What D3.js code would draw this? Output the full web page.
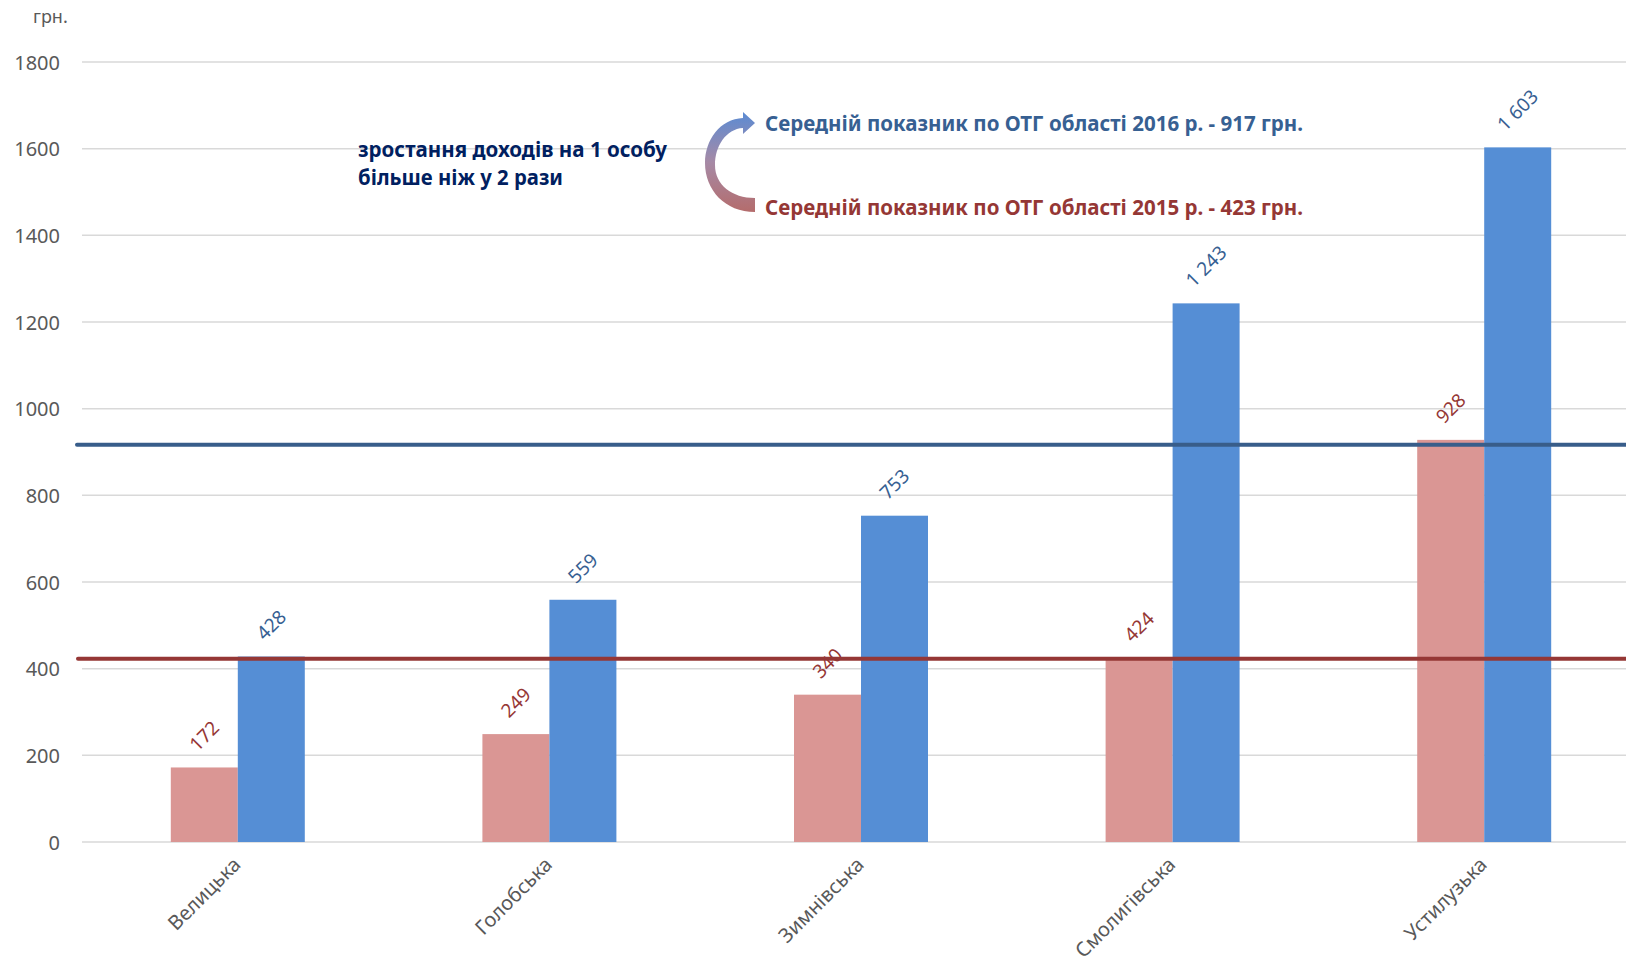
<!DOCTYPE html>
<html>
<head>
<meta charset="utf-8">
<script src="https://cdn.jsdelivr.net/npm/d3@7"></script>
<style>
  html, body { margin: 0; padding: 0; background: #fff; }
  svg { display: block; font-family: "Noto Sans", "Open Sans", sans-serif; }
</style>
</head>
<body>
<svg id="chart" width="1626" height="964"></svg>
<script>
// ---- data ----
const categories = ["Велицька", "Голобська", "Зимнівська", "Смолигівська", "Устилузька"];
const series = ["2015", "2016"];
const values2015 = [172, 249, 340, 424, 928];
const values2016 = [428, 559, 753, 1243, 1603];
const avg2015 = 423;
const avg2016 = 917;
const yTicks = [0, 200, 400, 600, 800, 1000, 1200, 1400, 1600, 1800];
const unitLabel = "грн.";
const noteLines = ["зростання доходів на 1 особу", "більше ніж у 2 рази"];
const legend2016 = "Середній показник по ОТГ області 2016 р. - 917 грн.";
const legend2015 = "Середній показник по ОТГ області 2015 р. - 423 грн.";

const colors = { "2015": "#DA9694", "2016": "#558ED5" };
const labelColors = { "2015": "#953735", "2016": "#376092" };

const svg = d3.select("#chart");

const x0 = d3.scaleBand().domain(categories).range([82, 1640]).paddingInner(0).paddingOuter(0);
const groupW = x0.bandwidth() * 0.43;
const x1 = d3.scaleBand().domain(series).range([-groupW / 2, groupW / 2]);
const y = d3.scaleLinear().domain([0, 1800]).range([842, 62]);

const fmt = v => {
  const s = String(v);
  return s.length > 3 ? s.slice(0, s.length - 3) + "\u00A0" + s.slice(-3) : s;
};

// gridlines
svg.append("g").selectAll("line").data(yTicks).join("line")
  .attr("x1", 82).attr("x2", 1626)
  .attr("y1", d => y(d)).attr("y2", d => y(d))
  .attr("stroke", "#D9D9D9").attr("stroke-width", 1.5);

// y axis labels
const yAxis = d3.axisLeft(y).tickValues(yTicks).tickSize(0).tickPadding(0).tickFormat(d3.format("d"));
const gy = svg.append("g").attr("transform", "translate(60,0)").call(yAxis);
gy.select(".domain").remove();
gy.selectAll("text").attr("font-size", 20).attr("fill", "#595959")
  .attr("font-family", "'Noto Sans', sans-serif").attr("dy", "0.35em");

// unit label
svg.append("text").attr("x", 33).attr("y", 23).attr("font-size", 18).attr("fill", "#595959").text(unitLabel);

// bars
const rows = categories.map((c, i) => ({ cat: c, vals: [
  { s: "2015", v: values2015[i] }, { s: "2016", v: values2016[i] } ] }));

const groups = svg.append("g").selectAll("g").data(rows).join("g")
  .attr("transform", d => `translate(${x0(d.cat) + x0.bandwidth() / 2},0)`);

groups.selectAll("rect").data(d => d.vals).join("rect")
  .attr("x", d => x1(d.s)).attr("width", x1.bandwidth())
  .attr("y", d => y(d.v)).attr("height", d => y(0) - y(d.v))
  .attr("fill", d => colors[d.s]);

// data labels
groups.selectAll("text.val").data(d => d.vals).join("text")
  .attr("class", "val")
  .attr("font-size", 19)
  .attr("fill", d => labelColors[d.s])
  .attr("text-anchor", "middle")
  .attr("dy", "0.35em")
  .text(d => fmt(d.v))
  .each(function (d) {
    const L = this.getComputedTextLength();
    const h = 14;
    const off = 15 + (L + h) / (2 * Math.SQRT2);
    const cx = x1(d.s) + x1.bandwidth() / 2;
    d3.select(this).attr("transform", `translate(${cx},${y(d.v) - off}) rotate(-45)`);
  });

// category labels
groups.append("text")
  .attr("font-size", 20).attr("fill", "#595959")
  .attr("text-anchor", "end")
  .attr("transform", "translate(4,866) rotate(-45)")
  .text(d => d.cat);

// average lines
svg.append("line").attr("x1", 77).attr("x2", 1626)
  .attr("y1", y(avg2016)).attr("y2", y(avg2016))
  .attr("stroke", "#385D8A").attr("stroke-width", 4).attr("stroke-linecap", "round");
svg.append("line").attr("x1", 78).attr("x2", 1626)
  .attr("y1", y(avg2015)).attr("y2", y(avg2015))
  .attr("stroke", "#953735").attr("stroke-width", 4).attr("stroke-linecap", "round");

// note text
const noteWidths = [309, 205];
svg.append("g").selectAll("text").data(noteLines).join("text")
  .attr("x", 358).attr("y", (d, i) => 157 + i * 28)
  .attr("font-size", 21).attr("font-weight", "bold").attr("fill", "#002060")
  .attr("textLength", (d, i) => noteWidths[i]).attr("lengthAdjust", "spacingAndGlyphs")
  .text(d => d);

// curved arrow with gradient
const defs = svg.append("defs");
const grad = defs.append("linearGradient").attr("id", "arrowGrad")
  .attr("x1", 0).attr("y1", 0).attr("x2", 0).attr("y2", 1);
grad.append("stop").attr("offset", "0%").attr("stop-color", "#5B8BD3");
grad.append("stop").attr("offset", "50%").attr("stop-color", "#A68AA6");
grad.append("stop").attr("offset", "100%").attr("stop-color", "#B46C6C");

svg.append("path")
  .attr("d", "M755,198 C732,198 715,185 715,165 C715,146 726,129 743,128 L743,134 L755,123 L743,112 L743,118 C720,119 705,140 705,163 C705,190 725,212 755,212 Z")
  .attr("fill", "url(#arrowGrad)");

// legend texts
svg.append("text").attr("x", 765).attr("y", 131)
  .attr("font-size", 21).attr("font-weight", "bold").attr("fill", "#376092")
  .attr("textLength", 538).attr("lengthAdjust", "spacingAndGlyphs")
  .text(legend2016);
svg.append("text").attr("x", 765).attr("y", 215)
  .attr("font-size", 21).attr("font-weight", "bold").attr("fill", "#953735")
  .attr("textLength", 538).attr("lengthAdjust", "spacingAndGlyphs")
  .text(legend2015);
</script>
</body>
</html>
